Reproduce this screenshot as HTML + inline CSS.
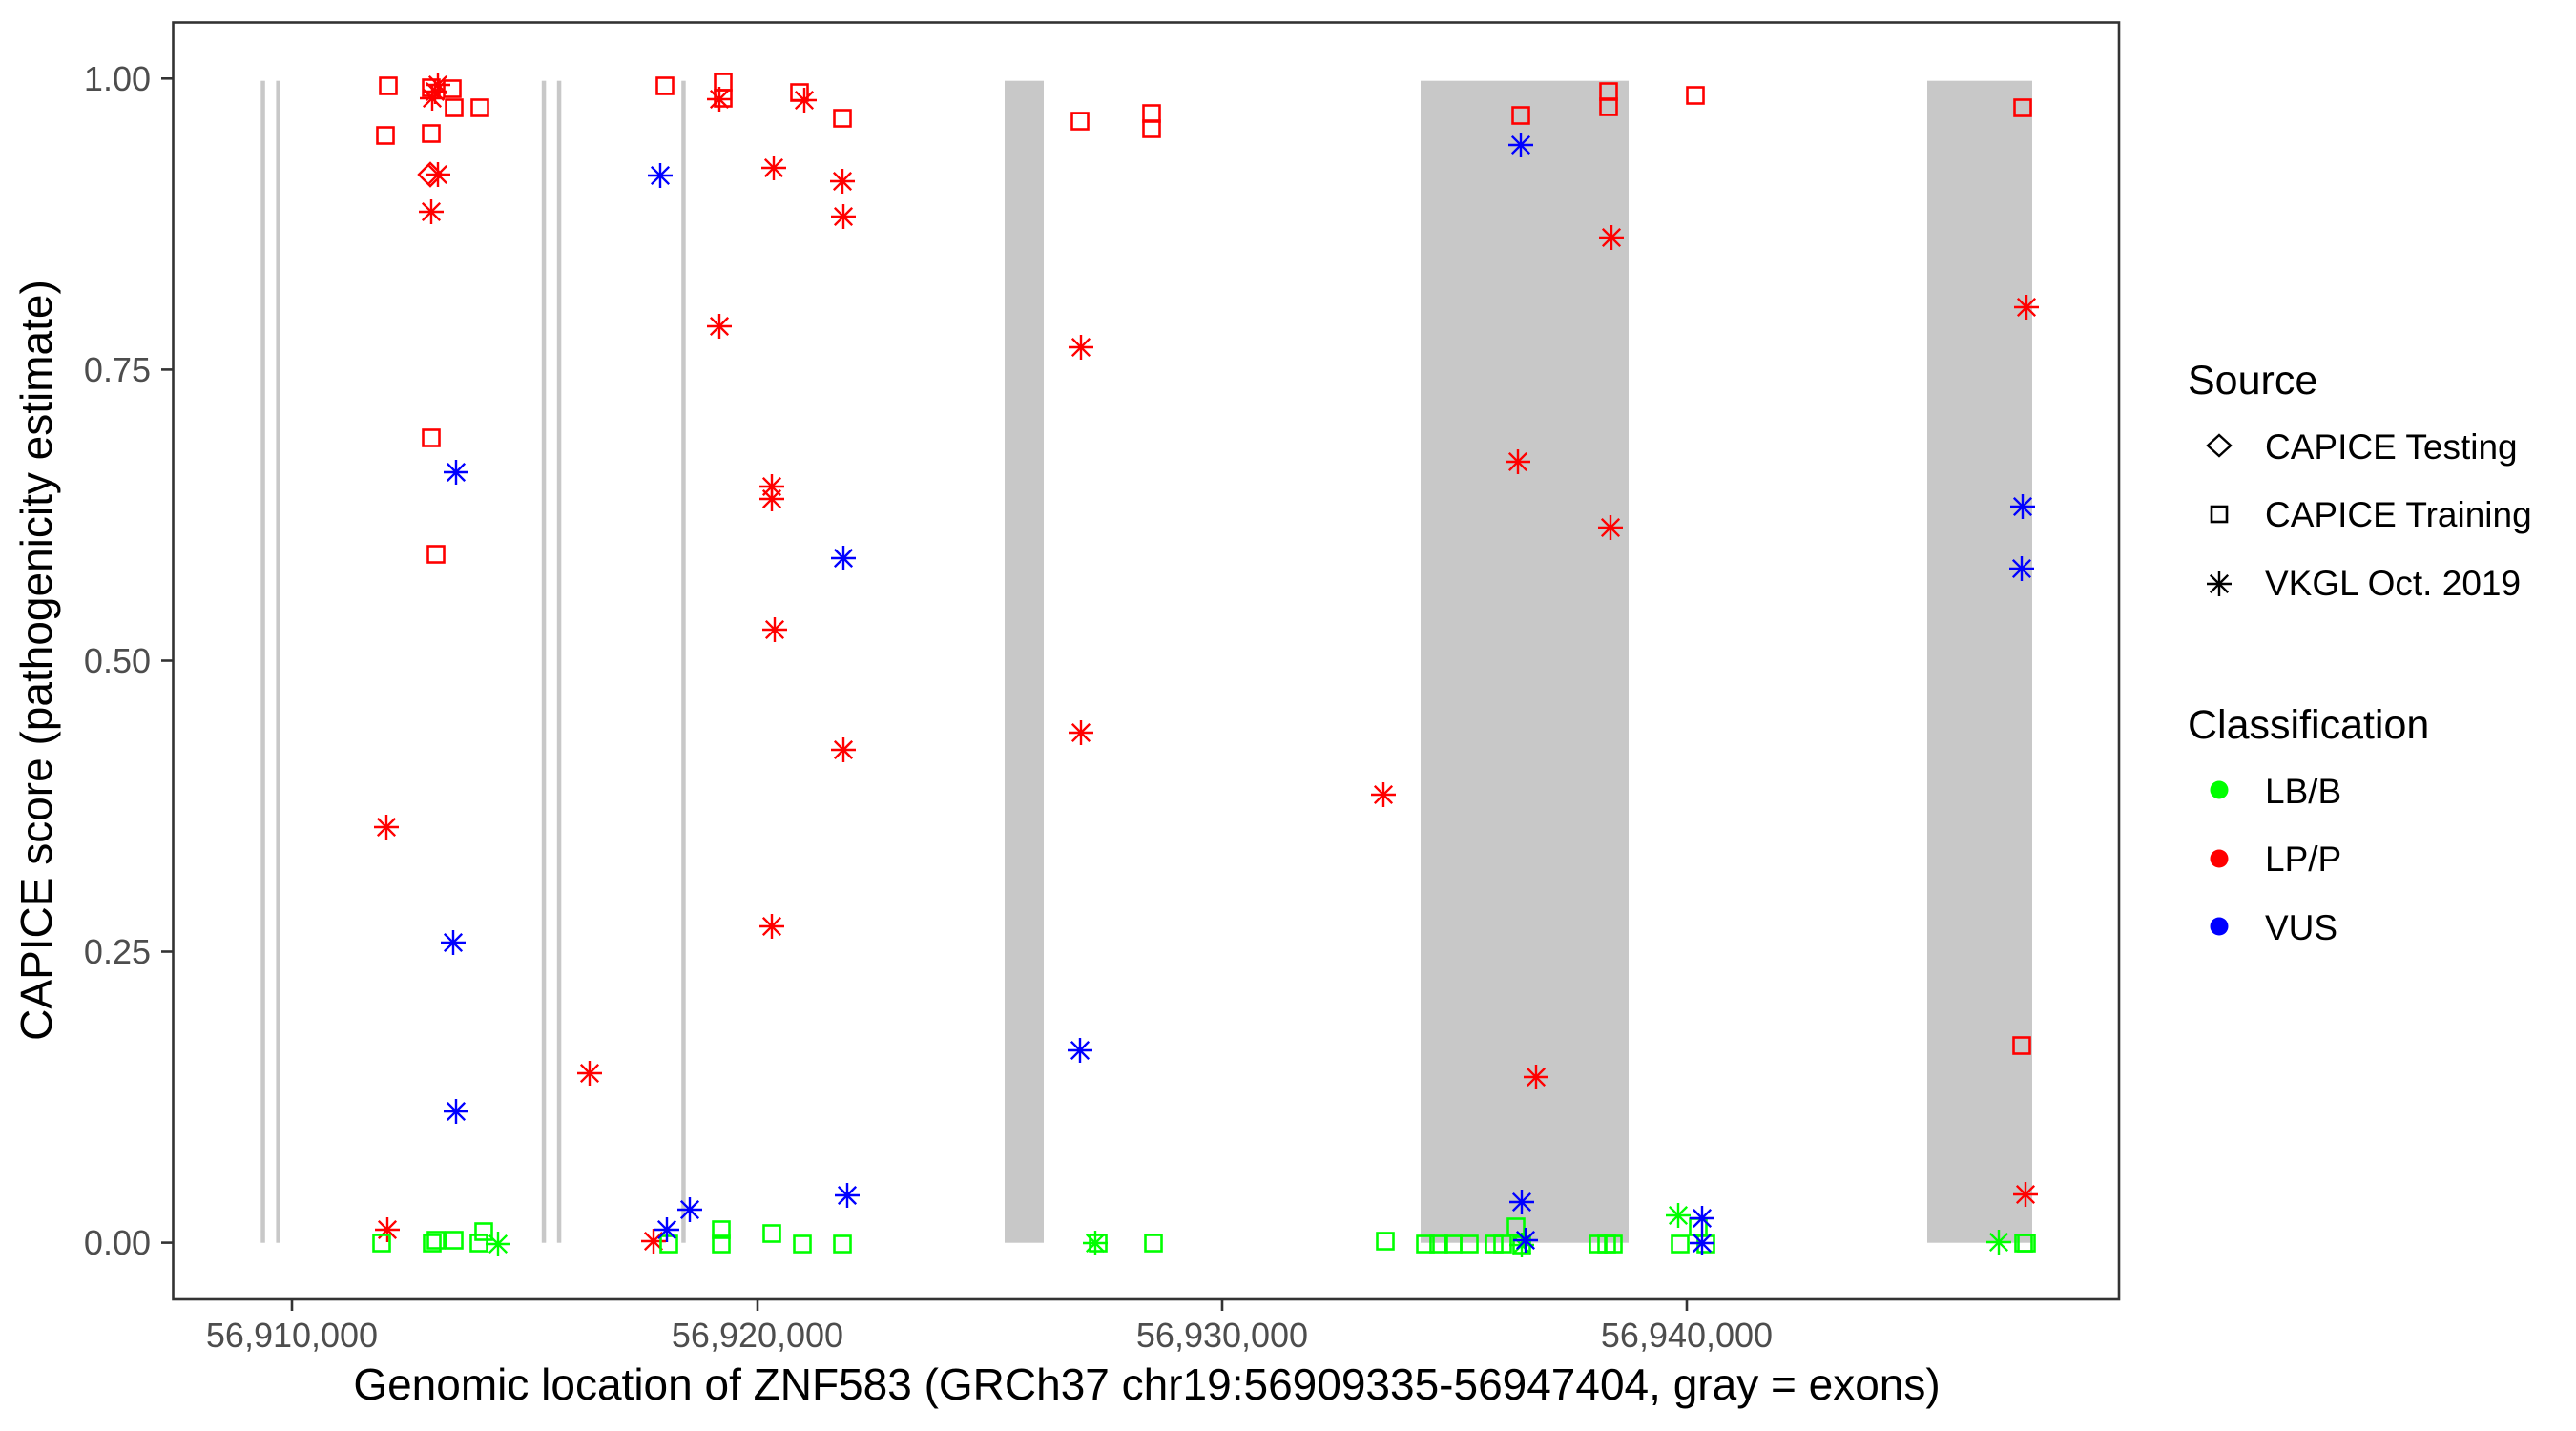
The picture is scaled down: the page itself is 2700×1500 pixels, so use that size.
<!DOCTYPE html>
<html><head><meta charset="utf-8"><style>html,body{margin:0;padding:0;background:#fff}svg{display:block}</style></head>
<body>
<svg width="2700" height="1500" viewBox="0 0 2700 1500" xmlns="http://www.w3.org/2000/svg" font-family="Liberation Sans, Arial, sans-serif">
<defs>
<g id="sq"><rect x="-8.5" y="-8.5" width="17" height="17" fill="none" stroke-width="2.6"/></g>
<g id="as" stroke-width="2.4"><line x1="-13" y1="0" x2="13" y2="0"/><line x1="0" y1="-13" x2="0" y2="13"/><line x1="-9.2" y1="-9.2" x2="9.2" y2="9.2"/><line x1="-9.2" y1="9.2" x2="9.2" y2="-9.2"/></g>
</defs>
<rect width="2700" height="1500" fill="#fff"/>
<g fill="#c8c8c8">
<rect x="273.3" y="84.7" width="4.5" height="1218"/>
<rect x="289.4" y="84.7" width="4.5" height="1218"/>
<rect x="567.8" y="84.7" width="4.5" height="1218"/>
<rect x="583.8" y="84.7" width="4.5" height="1218"/>
<rect x="714.2" y="84.7" width="4.5" height="1218"/>
<rect x="1053" y="84.7" width="41" height="1218"/>
<rect x="1489" y="84.7" width="218" height="1218"/>
<rect x="2020" y="84.7" width="110" height="1218"/>
</g>
<g stroke="#ff0000">
<use href="#sq" x="407" y="90"/><use href="#sq" x="404" y="142"/><use href="#sq" x="452" y="92"/><use href="#sq" x="452" y="140"/><use href="#sq" x="474" y="93"/><use href="#sq" x="476" y="113"/><use href="#sq" x="503" y="113"/><use href="#sq" x="452" y="459"/><use href="#sq" x="457" y="581"/><use href="#sq" x="697" y="90"/><use href="#sq" x="758" y="86"/><use href="#sq" x="758" y="103"/><use href="#sq" x="838" y="97"/><use href="#sq" x="883" y="124"/>
<use href="#sq" x="1132" y="127"/><use href="#sq" x="1207" y="119"/><use href="#sq" x="1207" y="135"/><use href="#sq" x="1594" y="121"/><use href="#sq" x="1686" y="96"/><use href="#sq" x="1686" y="112"/><use href="#sq" x="1777" y="100"/><use href="#sq" x="2120" y="113"/><use href="#sq" x="2119" y="1096"/>
<polygon points="451,171 463,183 451,195 439,183" fill="none" stroke-width="2.4"/>
<use href="#as" x="459" y="89"/><use href="#as" x="453" y="103"/><use href="#as" x="456" y="96"/><use href="#as" x="459" y="183"/><use href="#as" x="452" y="222"/><use href="#as" x="754" y="104"/><use href="#as" x="843" y="105"/><use href="#as" x="811" y="176"/><use href="#as" x="883" y="190"/><use href="#as" x="884" y="227"/><use href="#as" x="754" y="342"/><use href="#as" x="809" y="510"/><use href="#as" x="809" y="523"/><use href="#as" x="812" y="660"/>
<use href="#as" x="405" y="867"/><use href="#as" x="809" y="971"/><use href="#as" x="884" y="786"/><use href="#as" x="618" y="1125"/><use href="#as" x="406" y="1289"/><use href="#as" x="685" y="1301"/>
<use href="#as" x="1133" y="364"/><use href="#as" x="1689" y="249"/><use href="#as" x="1591" y="484"/><use href="#as" x="1688" y="553"/><use href="#as" x="1133" y="768"/><use href="#as" x="1450" y="833"/><use href="#as" x="1610" y="1129"/><use href="#as" x="2124" y="322"/><use href="#as" x="2123" y="1252"/>
</g>
<g stroke="#00ff00">
<use href="#sq" x="400" y="1303"/><use href="#sq" x="453" y="1303"/><use href="#sq" x="457" y="1300"/><use href="#sq" x="476" y="1300"/><use href="#sq" x="502" y="1303"/><use href="#sq" x="507" y="1291"/><use href="#sq" x="701" y="1304"/><use href="#sq" x="756" y="1289"/><use href="#sq" x="756" y="1304"/><use href="#sq" x="809" y="1293"/><use href="#sq" x="841" y="1304"/><use href="#sq" x="883" y="1304"/>
<use href="#sq" x="1151" y="1303"/><use href="#sq" x="1209" y="1303"/><use href="#sq" x="1452" y="1301"/><use href="#sq" x="1494" y="1304"/><use href="#sq" x="1508" y="1304"/><use href="#sq" x="1523" y="1304"/><use href="#sq" x="1540" y="1304"/><use href="#sq" x="1566" y="1304"/><use href="#sq" x="1575" y="1304"/><use href="#sq" x="1589" y="1286"/><use href="#sq" x="1595" y="1305"/><use href="#sq" x="1675" y="1304"/><use href="#sq" x="1684" y="1304"/><use href="#sq" x="1691" y="1304"/><use href="#sq" x="1761" y="1304"/><use href="#sq" x="1780" y="1286"/><use href="#sq" x="1788" y="1304"/><use href="#sq" x="2121" y="1303"/><use href="#sq" x="2124" y="1303"/>
<use href="#as" x="522" y="1304"/><use href="#as" x="1759" y="1274"/><use href="#as" x="1595" y="1305"/><use href="#as" x="2095" y="1302"/><use href="#as" x="1148" y="1303"/>
</g>
<g stroke="#0000ff">
<use href="#as" x="692" y="184"/><use href="#as" x="478" y="495"/><use href="#as" x="884" y="585"/><use href="#as" x="475" y="988"/><use href="#as" x="478" y="1165"/><use href="#as" x="699" y="1289"/><use href="#as" x="723" y="1268"/><use href="#as" x="888" y="1253"/>
<use href="#as" x="1594" y="152"/><use href="#as" x="1132" y="1101"/><use href="#as" x="1595" y="1260"/><use href="#as" x="1599" y="1300"/><use href="#as" x="1784" y="1277"/><use href="#as" x="1784" y="1303"/><use href="#as" x="2120" y="531"/><use href="#as" x="2119" y="596"/>
</g>
<rect x="181.5" y="23.5" width="2039.5" height="1338.5" fill="none" stroke="#333" stroke-width="2.6"/>
<g stroke="#333" stroke-width="2.6">
<line x1="169" y1="82.3" x2="181" y2="82.3"/><line x1="169" y1="387.4" x2="181" y2="387.4"/><line x1="169" y1="692.5" x2="181" y2="692.5"/><line x1="169" y1="997.5" x2="181" y2="997.5"/><line x1="169" y1="1302.6" x2="181" y2="1302.6"/>
<line x1="306" y1="1362" x2="306" y2="1374"/><line x1="794" y1="1362" x2="794" y2="1374"/><line x1="1281" y1="1362" x2="1281" y2="1374"/><line x1="1768" y1="1362" x2="1768" y2="1374"/>
</g>
<g fill="#4d4d4d" font-size="36" text-anchor="end">
<text x="158" y="95">1.00</text><text x="158" y="400">0.75</text><text x="158" y="705">0.50</text><text x="158" y="1010">0.25</text><text x="158" y="1315">0.00</text>
</g>
<g fill="#4d4d4d" font-size="36" text-anchor="middle">
<text x="306" y="1412">56,910,000</text><text x="794" y="1412">56,920,000</text><text x="1281" y="1412">56,930,000</text><text x="1768" y="1412">56,940,000</text>
</g>
<text x="1202" y="1467" font-size="46" text-anchor="middle" fill="#000">Genomic location of ZNF583 (GRCh37 chr19:56909335-56947404, gray = exons)</text>
<text transform="translate(54,692) rotate(-90)" font-size="46" text-anchor="middle" fill="#000">CAPICE score (pathogenicity estimate)</text>
<g fill="#000">
<text x="2293" y="413" font-size="43">Source</text>
<text x="2374" y="481" font-size="37">CAPICE Testing</text>
<text x="2374" y="552" font-size="37">CAPICE Training</text>
<text x="2374" y="624" font-size="37">VKGL Oct. 2019</text>
<text x="2293" y="774" font-size="43">Classification</text>
<text x="2374" y="842" font-size="37">LB/B</text>
<text x="2374" y="913" font-size="37">LP/P</text>
<text x="2374" y="985" font-size="37">VUS</text>
</g>
<polygon points="2326,456 2338,467 2326,478 2314,467" fill="none" stroke="#000" stroke-width="2.4"/>
<rect x="2318" y="531" width="16" height="16" fill="none" stroke="#000" stroke-width="2.6"/>
<use href="#as" x="2326" y="612" stroke="#000"/>
<circle cx="2326" cy="828" r="9.5" fill="#00ff00"/>
<circle cx="2326" cy="900" r="9.5" fill="#ff0000"/>
<circle cx="2326" cy="971" r="9.5" fill="#0000ff"/>
</svg>
</body></html>
